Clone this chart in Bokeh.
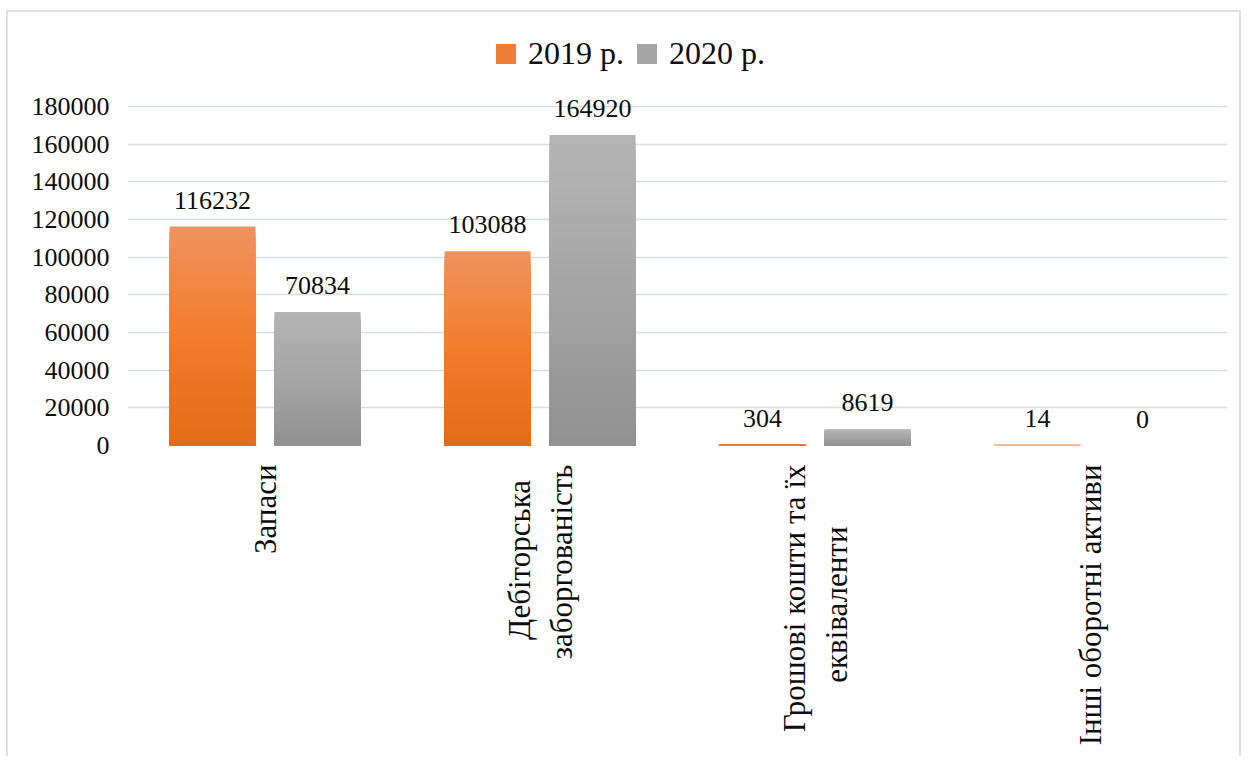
import numpy as np
from bokeh.plotting import figure
from bokeh.models import (FactorRange, ColumnDataSource, LabelSet, Legend, LegendItem,
                          FixedTicker, NumeralTickFormatter, Range1d)
from bokeh.transform import dodge
from bokeh.embed import file_html
from bokeh.resources import INLINE

# ---------------- data ----------------
categories = ["Запаси", "Дебіторська  \nзаборгованість",
              "Грошові кошти та їх\nеквіваленти        ", "Інші оборотні активи"]
series_names = ["2019 р.", "2020 р."]
values_2019 = [116232, 103088, 304, 14]
values_2020 = [70834, 164920, 8619, 0]
y_ticks = [0, 20000, 40000, 60000, 80000, 100000, 120000, 140000, 160000, 180000]

# ---------------- style ----------------
FONT = "Liberation Serif"
TEXT = "#0d0d0d"
GRID = "#D9DEE4"
# gradient stops (top -> bottom)
grad_2019 = [(240, 146, 94), (241, 124, 44), (227, 107, 24)]
grad_2020 = [(180, 180, 180), (165, 165, 165), (144, 144, 144)]
mid_2019 = "#EF7C34"
mid_2020 = "#A6A6A6"
OFFSET = 0.1909
BAR_W = 0.3127
N_SLICES = 40

W, H = 1241, 756
BORDER_L, BORDER_R, BORDER_B = 127, 14, 311
FRAME_H = H - BORDER_B
GRID_H = 339  # pixel height of the 0..180000 span
y_end = y_ticks[-1] * FRAME_H / GRID_H

p = figure(x_range=FactorRange(*categories, range_padding=0), y_range=Range1d(0, y_end),
           width=W, height=H, output_backend="svg", toolbar_location=None,
           min_border_left=BORDER_L, min_border_right=BORDER_R, min_border_top=0,
           min_border_bottom=BORDER_B)
p.border_fill_color = None
p.background_fill_color = None
p.outline_line_color = None
p.styles = {"box-shadow": "inset 6px 10px 0 0 white, inset 8px 12px 0 0 #DDE1E7, "
                          "inset -2px 0 0 0 #DDE1E7",
            "background-color": "white"}


def interp(stops, t):
    # t = 1 -> top color, t = 0 -> bottom color
    top, mid, bot = stops
    if t >= 0.5:
        f = (t - 0.5) / 0.5
        a, b = mid, top
    else:
        f = t / 0.5
        a, b = bot, mid
    c = [round(a[k] + (b[k] - a[k]) * f) for k in range(3)]
    return "#%02x%02x%02x" % tuple(c)


def gradient_source(vals, stops):
    xs, tops, cols = [], [], []
    for j in range(N_SLICES):
        frac = (N_SLICES - j) / N_SLICES
        for cat, v in zip(categories, vals):
            xs.append(cat)
            tops.append(v * frac)
            cols.append(interp(stops, frac))
    return ColumnDataSource(dict(cat=xs, top=tops, color=cols))


for vals, stops, off, mid in [(values_2019, grad_2019, -OFFSET, mid_2019),
                              (values_2020, grad_2020, OFFSET, mid_2020)]:
    src = gradient_source(vals, stops)
    p.vbar(x=dodge("cat", off, range=p.x_range), top="top", bottom=0, width=BAR_W,
           source=src, fill_color="color", line_color=None)
    # Excel-like minimal visible height for tiny (non-zero) bars
    tiny = ColumnDataSource(dict(cat=categories, top=vals,
                                 la=[1.0 if 0 < v < 2000 else 0.0 for v in vals]))
    p.vbar(x=dodge("cat", off, range=p.x_range), top="top", bottom=0, width=BAR_W,
           source=tiny, fill_alpha=0, line_color="#EE7A30", line_width=2, line_alpha="la")
    # data labels
    lab = ColumnDataSource(dict(cat=categories, val=vals, txt=[str(v) for v in vals]))
    p.add_layout(LabelSet(x=dodge("cat", off, range=p.x_range), y="val", text="txt",
                          source=lab, text_align="center", text_baseline="alphabetic",
                          y_offset=18, text_font=FONT, text_font_size="26px",
                          text_color=TEXT))

# legend-only renderers (zero-size marks, used only for the legend swatches)
leg_src = ColumnDataSource(dict(cat=[categories[0]], top=[0]))
leg1 = p.vbar(x="cat", top="top", bottom=0, width=0, source=leg_src,
              fill_color=mid_2019, line_color=None)
leg2 = p.vbar(x="cat", top="top", bottom=0, width=0, source=leg_src,
              fill_color=mid_2020, line_color=None)
legend = Legend(items=[LegendItem(label=series_names[0], renderers=[leg1]),
                       LegendItem(label=series_names[1], renderers=[leg2])],
                orientation="horizontal", location=(366, 373),
                label_text_font=FONT, label_text_font_size="32px", label_text_color=TEXT,
                glyph_width=25, glyph_height=25, label_standoff=10, spacing=10,
                padding=0, margin=0, border_line_color=None, background_fill_alpha=0,
                label_height=25)
p.add_layout(legend, "center")

# axes & grid
p.yaxis.ticker = FixedTicker(ticks=y_ticks)
p.yaxis.formatter = NumeralTickFormatter(format="0")
p.yaxis.axis_line_color = None
p.yaxis.major_tick_line_color = None
p.yaxis.minor_tick_line_color = None
p.yaxis.major_tick_out = 0
p.yaxis.major_label_standoff = 18
p.yaxis.major_label_text_font = FONT
p.yaxis.major_label_text_font_size = "26px"
p.yaxis.major_label_text_color = TEXT

p.xaxis.axis_line_color = None
p.xaxis.major_tick_line_color = None
p.xaxis.major_tick_out = 0
p.xaxis.major_label_orientation = np.pi / 2
p.xaxis.major_label_standoff = 19
p.xaxis.major_label_text_font = FONT
p.xaxis.major_label_text_font_size = "31px"
p.xaxis.major_label_text_color = TEXT

p.xgrid.grid_line_color = None
p.ygrid.ticker = FixedTicker(ticks=y_ticks)
p.ygrid.grid_line_color = GRID
p.ygrid.grid_line_width = 1.5

open("out.html", "w").write(file_html(p, INLINE))
